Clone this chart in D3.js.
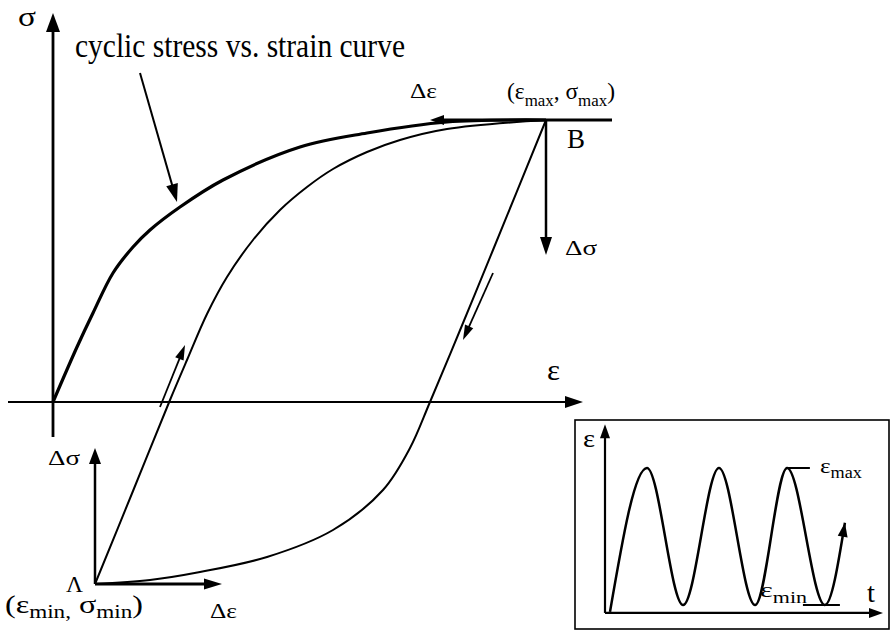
<!DOCTYPE html>
<html>
<head>
<meta charset="utf-8">
<script src="https://cdn.jsdelivr.net/npm/d3@7"></script>
<style>
  html, body { margin: 0; padding: 0; background: #fff; }
  text { font-family: "Liberation Serif", "Times New Roman", serif; fill: #000; }
</style>
</head>
<body>
<svg id="chart" width="892" height="633"></svg>
<script>
// ---- Cyclic stress–strain curve (strain ε, stress σ, arbitrary units) ----
const cyclicStrain = [0, 0.24, 0.40, 0.60, 0.80, 0.97, 1.27, 1.70, 2.47, 3.14, 3.94, 4.93];
const cyclicStress = [0, 0.55, 0.89, 1.29, 1.55, 1.72, 1.95, 2.22, 2.55, 2.69, 2.80, 2.82];

// ---- Hysteresis loop: loading branch A -> B ----
const loadStrain = [0.42, 0.80, 1.17, 1.34, 1.54, 1.74, 2.00, 2.27, 2.54, 2.80, 3.14, 3.47, 3.94, 4.93];
const loadStress = [-1.82, -0.89, 0.02, 0.42, 0.88, 1.25, 1.62, 1.92, 2.15, 2.33, 2.50, 2.62, 2.73, 2.82];

// ---- Hysteresis loop: unloading branch B -> A ----
const unloadStrain = [4.93, 4.40, 4.10, 3.77, 3.57, 3.30, 2.80, 2.14, 1.47, 0.97, 0.42];
const unloadStress = [2.82, 1.52, 0.79, 0.00, -0.46, -0.88, -1.28, -1.55, -1.70, -1.78, -1.82];

// Turning points of the loop
const pointB = [4.93, 2.82];   // (ε_max, σ_max)
const pointA = [0.42, -1.82];  // (ε_min, σ_min)

// ---- Strain history ε(t): time stamps and strain (0 = ε_min, 1 = ε_max) ----
const waveTime   = [0.18, 1.51, 2.81, 4.10, 5.40, 6.55, 7.91, 8.63];
const waveStrain = [-0.05, 1, 0, 1, 0, 1, 0, 0.6];

const svg = d3.select("#chart");

// Main σ–ε axes
const x = d3.scaleLinear().domain([-0.45, 5.30]).range([8, 583]);
const y = d3.scaleLinear().domain([-0.35, 3.89]).range([437, 13]);

// Inset ε–t axes
const tx = d3.scaleLinear().domain([0, 10]).range([605, 883]);
const ty = d3.scaleLinear().domain([0, 1]).range([605, 468]);

function head(g, x1, y1, x2, y2, len, w) {
  const dx = x2 - x1, dy = y2 - y1, L = Math.hypot(dx, dy);
  const ux = dx / L, uy = dy / L;
  const bx = x2 - ux * len, by = y2 - uy * len;
  g.append("path")
    .attr("d", `M${x2},${y2}L${bx - uy * w / 2},${by + ux * w / 2}L${bx + uy * w / 2},${by - ux * w / 2}Z`)
    .attr("fill", "#000");
}

function arrow(g, x1, y1, x2, y2, sw, len, w) {
  const L = Math.hypot(x2 - x1, y2 - y1);
  const k = (L - len * 0.6) / L;
  g.append("line")
    .attr("x1", x1).attr("y1", y1)
    .attr("x2", x1 + (x2 - x1) * k).attr("y2", y1 + (y2 - y1) * k)
    .attr("stroke", "#000").attr("stroke-width", sw);
  head(g, x1, y1, x2, y2, len, w);
}

function label(px, py, parts, size, width, shift) {
  const t = svg.append("text")
    .attr("x", px).attr("y", py)
    .attr("font-size", size)
    .attr("textLength", width)
    .attr("lengthAdjust", "spacingAndGlyphs");
  let cur = 0;
  parts.forEach(p => {
    const ts = t.append("tspan").text(p.t);
    const target = p.sub ? shift : 0;
    if (target !== cur) ts.attr("dy", target - cur);
    if (p.sub) ts.attr("font-size", size * 0.72);
    cur = target;
  });
  return t;
}

const g = svg.append("g");

// ---- main axes ----
arrow(g, x(-0.45), y(0), x(5.30), y(0), 2.2, 18, 12);
arrow(g, x(0), y(-0.35), x(0), y(3.89), 2.8, 19, 14);

// ---- curves ----
const lineMain = d3.line().x(d => x(d[0])).y(d => y(d[1])).curve(d3.curveCatmullRom.alpha(0.5));

g.append("path")
  .attr("d", lineMain(d3.zip(cyclicStrain, cyclicStress)))
  .attr("fill", "none").attr("stroke", "#000").attr("stroke-width", 3.2)
  .attr("stroke-linejoin", "round");

g.append("path")
  .attr("d", lineMain(d3.zip(loadStrain, loadStress)))
  .attr("fill", "none").attr("stroke", "#000").attr("stroke-width", 2);

g.append("path")
  .attr("d", lineMain(d3.zip(unloadStrain, unloadStress)))
  .attr("fill", "none").attr("stroke", "#000").attr("stroke-width", 2);

// ---- annotations at B ----
g.append("line")
  .attr("x1", x(3.90)).attr("y1", y(pointB[1]))
  .attr("x2", x(5.59)).attr("y2", y(pointB[1]))
  .attr("stroke", "#000").attr("stroke-width", 3.2);
head(g, x(pointB[0]), y(pointB[1]), x(3.77), y(pointB[1]), 14, 10);
arrow(g, x(pointB[0]), y(pointB[1]), x(pointB[0]), y(1.47), 2.5, 18, 12);

// ---- annotations at A ----
arrow(g, x(pointA[0]), y(pointA[1]), x(pointA[0]), y(-0.46), 2.5, 16, 12);
arrow(g, x(pointA[0]), y(pointA[1]), x(1.69), y(pointA[1]), 3, 18, 11);

// ---- direction arrows along the loop ----
arrow(g, x(1.07), y(-0.05), x(1.32), y(0.57), 1.8, 15, 9);
arrow(g, x(4.40), y(1.29), x(4.10), y(0.62), 1.8, 15, 9);

// ---- pointer to the cyclic curve ----
arrow(g, x(0.87), y(3.29), x(1.24), y(2.00), 2, 18, 12);

// ---- inset: strain history ----
const inset = svg.append("g");
inset.append("rect")
  .attr("x", 575).attr("y", 420).attr("width", 314).attr("height", 209)
  .attr("fill", "none").attr("stroke", "#000").attr("stroke-width", 1.6);

arrow(inset, tx(0), ty(-0.058), tx(0), ty(1.32), 2.2, 14, 10);
arrow(inset, tx(0), ty(-0.058), tx(10), ty(-0.058), 2.2, 14, 10);

const wavePath = inset.append("path")
  .attr("d", d3.line().x(d => tx(d[0])).y(d => ty(d[1])).curve(d3.curveMonotoneX)(d3.zip(waveTime, waveStrain)))
  .attr("fill", "none").attr("stroke", "#000").attr("stroke-width", 2.5);
{
  const node = wavePath.node(), L = node.getTotalLength();
  const p0 = node.getPointAtLength(L - 10), p1 = node.getPointAtLength(L);
  head(inset, p0.x, p0.y, p1.x, p1.y, 14, 10);
}

inset.append("line")
  .attr("x1", tx(6.58)).attr("x2", tx(7.37)).attr("y1", ty(1)).attr("y2", ty(1))
  .attr("stroke", "#000").attr("stroke-width", 2);
inset.append("line")
  .attr("x1", tx(7.12)).attr("x2", tx(8.45)).attr("y1", ty(0)).attr("y2", ty(0))
  .attr("stroke", "#000").attr("stroke-width", 2);

// ---- labels ----
label(18, 26, [{t: "σ"}], 27, 18, 0);
label(75, 57, [{t: "cyclic stress vs. strain curve"}], 34, 330, 0);
label(410, 98, [{t: "Δε"}], 21, 27, 0);
label(507, 99, [{t: "(ε"}, {t: "max", sub: true}, {t: ", σ"}, {t: "max", sub: true}, {t: ")"}], 23, 108, 7);
label(567, 148, [{t: "B"}], 28, 18, 0);
label(565, 255, [{t: "Δσ"}], 22, 32, 0);
label(547, 380, [{t: "ε"}], 30, 13, 0);
label(48, 465, [{t: "Δσ"}], 22, 32, 0);
label(66, 592, [{t: "Λ"}], 24, 17, 0);
label(5, 613, [{t: "(ε"}, {t: "min,", sub: true}, {t: " σ"}, {t: "min", sub: true}, {t: ")"}], 26, 138, 5);
label(210, 618, [{t: "Δε"}], 21, 27, 0);
label(583, 447, [{t: "ε"}], 26, 12, 0);
label(820, 473, [{t: "ε"}, {t: "max", sub: true}], 22, 42, 5);
label(760, 597, [{t: "ε"}, {t: "min", sub: true}], 22, 47, 6);
label(867, 602, [{t: "t"}], 28, 8, 0);
</script>
</body>
</html>
